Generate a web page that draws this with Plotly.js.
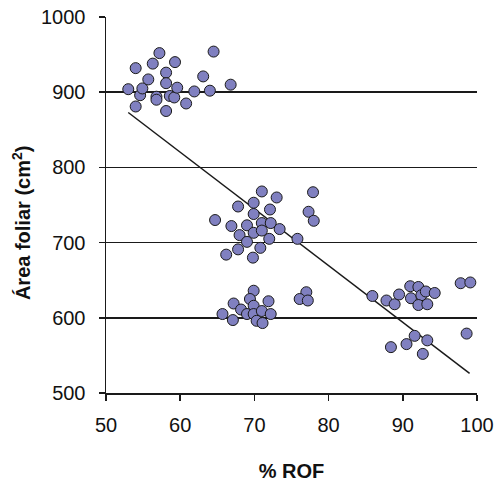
<!DOCTYPE html>
<html><head><meta charset="utf-8">
<script src="https://cdn.plot.ly/plotly-3.0.1.min.js"></script>
<style>html,body{margin:0;padding:0;background:#fff}#chart{width:502px;height:482px}</style>
</head><body><div id="chart"></div>
<script>
var rofX = [53.0,54.0,54.6,54.9,54.0,55.7,56.3,57.2,56.8,56.8,58.1,58.1,58.1,58.6,59.2,59.3,59.6,60.8,61.9,63.1,64.0,64.5,66.8,
71.0,73.0,77.9,67.8,69.9,72.1,77.3,78.0,64.7,69.9,66.9,69.0,71.0,72.2,73.4,68.0,69.9,71.0,69.0,72.0,75.8,67.8,70.8,66.2,69.8,
69.9,69.4,71.9,67.2,68.2,69.9,69.0,69.9,71.0,72.2,65.7,67.1,70.3,71.1,77.0,76.1,77.2,
85.9,87.8,88.9,89.5,91.0,92.1,91.1,92.5,93.1,92.1,93.3,94.3,97.8,99.1,91.6,93.3,90.5,88.4,92.7,98.6];
var areaY = [904,932,896,905,881,917,938,952,894,890,926,912,875,895,893,940,906,885,901,921,902,954,910,
768,760,767,748,753,744,741,729,730,738,722,723,726,726,718,710,713,716,701,705,705,691,693,684,680,
636,625,622,619,611,616,605,605,609,605,605,597,596,593,634,625,623,
629,623,618,631,642,641,626,630,635,617,618,633,646,647,576,570,565,561,552,579];
var trendX = [53.0, 99.0];
var trendY = [873, 526];
var xTicks = [50,60,70,80,90,100];
var yTicks = [500,600,700,800,900,1000];
var xTitle = '<b>% ROF</b>';
var yTitle = '<b>Área foliar (cm<sup>2</sup>)</b>';

var ink = '#1a1a1a';
var data = [
  {x: trendX, y: trendY, type:'scatter', mode:'lines', line:{color:ink, width:1.5}, hoverinfo:'skip'},
  {x: rofX, y: areaY, type:'scatter', mode:'markers',
   marker:{size:11, color:'#8080c0', line:{color:ink, width:1}}}
];
var font = {family:'"Liberation Sans", Arial, sans-serif', size:20, color:'#111'};
var layout = {
  width:502, height:482, showlegend:false,
  paper_bgcolor:'#fff', plot_bgcolor:'#fff',
  margin:{l:106, r:25, t:17, b:89},
  font: font,
  xaxis:{range:[50,100], tickvals:xTicks, ticktext:xTicks.map(String), showgrid:false, zeroline:false,
    showline:true, linecolor:ink, linewidth:1.5, ticks:'outside', ticklen:6, tickwidth:1.5, tickcolor:ink,
    tickfont:font, ticklabelstandoff:7,
    title:{text:xTitle, font:font, standoff:33}},
  yaxis:{range:[500,1000], tickvals:yTicks, ticktext:yTicks.map(String), showgrid:true, gridcolor:ink, gridwidth:1.5,
    zeroline:false, showline:true, linecolor:ink, linewidth:1.5, ticks:'outside', ticklen:6, tickwidth:1.5, tickcolor:ink,
    tickfont:font, ticklabelstandoff:9},
  annotations:[{text:yTitle, xref:'paper', yref:'paper', x:-0.229, y:0.452, xanchor:'center', yanchor:'middle',
    textangle:-90, showarrow:false, font:font}]
};
Plotly.newPlot('chart', data, layout, {displayModeBar:false, staticPlot:true});
</script></body></html>
